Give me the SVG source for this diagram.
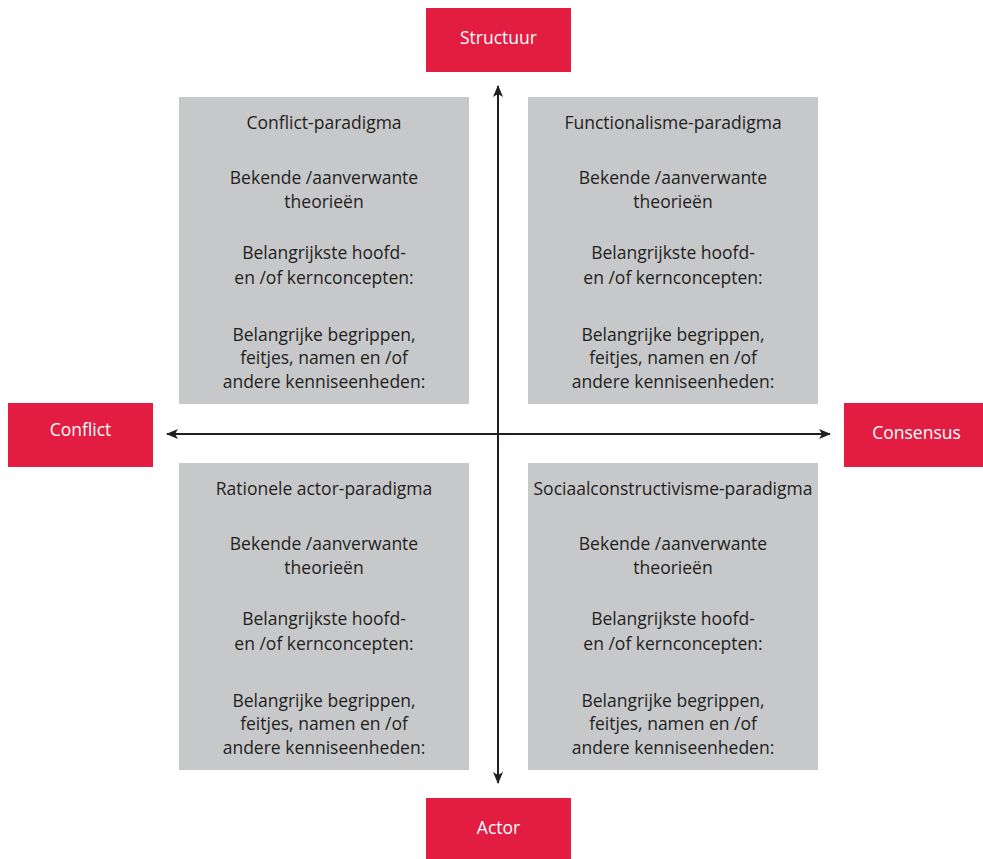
<svg xmlns="http://www.w3.org/2000/svg" width="983" height="859" viewBox="0 0 983 859">
<defs>
<style>
.red{fill:#e31c42}
.grey{fill:#c7c8ca}
.lbl{font-family:"Open Sans","Liberation Sans",sans-serif;font-size:17.5px;fill:#ffffff;text-anchor:middle}
.txt{font-family:"Open Sans","Liberation Sans",sans-serif;font-size:17.5px;fill:#231f20;text-anchor:middle}
.ax{stroke:#231f20;stroke-width:2;fill:none}
</style>
<marker id="ah" viewBox="0 0 12 10" refX="11" refY="5" markerWidth="6" markerHeight="5" markerUnits="strokeWidth" orient="auto">
<path d="M0,0 L12,5 L0,10 L3,5 Z" fill="#231f20"/>
</marker>
</defs>
<rect width="983" height="859" fill="#ffffff"/>
<g id="connectors">
<line class="ax" x1="498" y1="434" x2="498" y2="86" marker-end="url(#ah)"/>
<line class="ax" x1="498" y1="434" x2="498" y2="783" marker-end="url(#ah)"/>
<line class="ax" x1="498" y1="434" x2="167" y2="434" marker-end="url(#ah)"/>
<line class="ax" x1="498" y1="434" x2="830" y2="434" marker-end="url(#ah)"/>
</g>
<g id="structuur"><rect class="red" x="426" y="8" width="145" height="64"/><text class="lbl" x="498.5" y="44">Structuur</text></g>
<g id="conflict"><rect class="red" x="8" y="403" width="145" height="64"/><text class="lbl" x="80.5" y="436">Conflict</text></g>
<g id="consensus"><rect class="red" x="844" y="403" width="139" height="64"/><text class="lbl" x="916.5" y="439">Consensus</text></g>
<g id="actor"><rect class="red" x="426" y="798" width="145" height="61"/><text class="lbl" x="498.5" y="834">Actor</text></g>
<g id="conflict-paradigma">
<rect class="grey" x="179" y="97" width="290" height="307"/>
<text class="txt"><tspan x="324" y="129">Conflict-paradigma</tspan><tspan x="324" y="184">Bekende /aanverwante</tspan><tspan x="324" y="208">theorieën</tspan><tspan x="324" y="259">Belangrijkste hoofd-</tspan><tspan x="324" y="284">en /of kernconcepten:</tspan><tspan x="324" y="341">Belangrijke begrippen,</tspan><tspan x="324" y="364">feitjes, namen en /of</tspan><tspan x="324" y="388">andere kenniseenheden:</tspan></text>
</g>
<g id="functionalisme-paradigma">
<rect class="grey" x="528" y="97" width="290" height="307"/>
<text class="txt"><tspan x="673" y="129">Functionalisme-paradigma</tspan><tspan x="673" y="184">Bekende /aanverwante</tspan><tspan x="673" y="208">theorieën</tspan><tspan x="673" y="259">Belangrijkste hoofd-</tspan><tspan x="673" y="284">en /of kernconcepten:</tspan><tspan x="673" y="341">Belangrijke begrippen,</tspan><tspan x="673" y="364">feitjes, namen en /of</tspan><tspan x="673" y="388">andere kenniseenheden:</tspan></text>
</g>
<g id="rationele-actor-paradigma">
<rect class="grey" x="179" y="463" width="290" height="307"/>
<text class="txt"><tspan x="324" y="495">Rationele actor-paradigma</tspan><tspan x="324" y="550">Bekende /aanverwante</tspan><tspan x="324" y="574">theorieën</tspan><tspan x="324" y="625">Belangrijkste hoofd-</tspan><tspan x="324" y="650">en /of kernconcepten:</tspan><tspan x="324" y="707">Belangrijke begrippen,</tspan><tspan x="324" y="730">feitjes, namen en /of</tspan><tspan x="324" y="754">andere kenniseenheden:</tspan></text>
</g>
<g id="sociaalconstructivisme-paradigma">
<rect class="grey" x="528" y="463" width="290" height="307"/>
<text class="txt"><tspan x="673" y="495">Sociaalconstructivisme-paradigma</tspan><tspan x="673" y="550">Bekende /aanverwante</tspan><tspan x="673" y="574">theorieën</tspan><tspan x="673" y="625">Belangrijkste hoofd-</tspan><tspan x="673" y="650">en /of kernconcepten:</tspan><tspan x="673" y="707">Belangrijke begrippen,</tspan><tspan x="673" y="730">feitjes, namen en /of</tspan><tspan x="673" y="754">andere kenniseenheden:</tspan></text>
</g>
</svg>
